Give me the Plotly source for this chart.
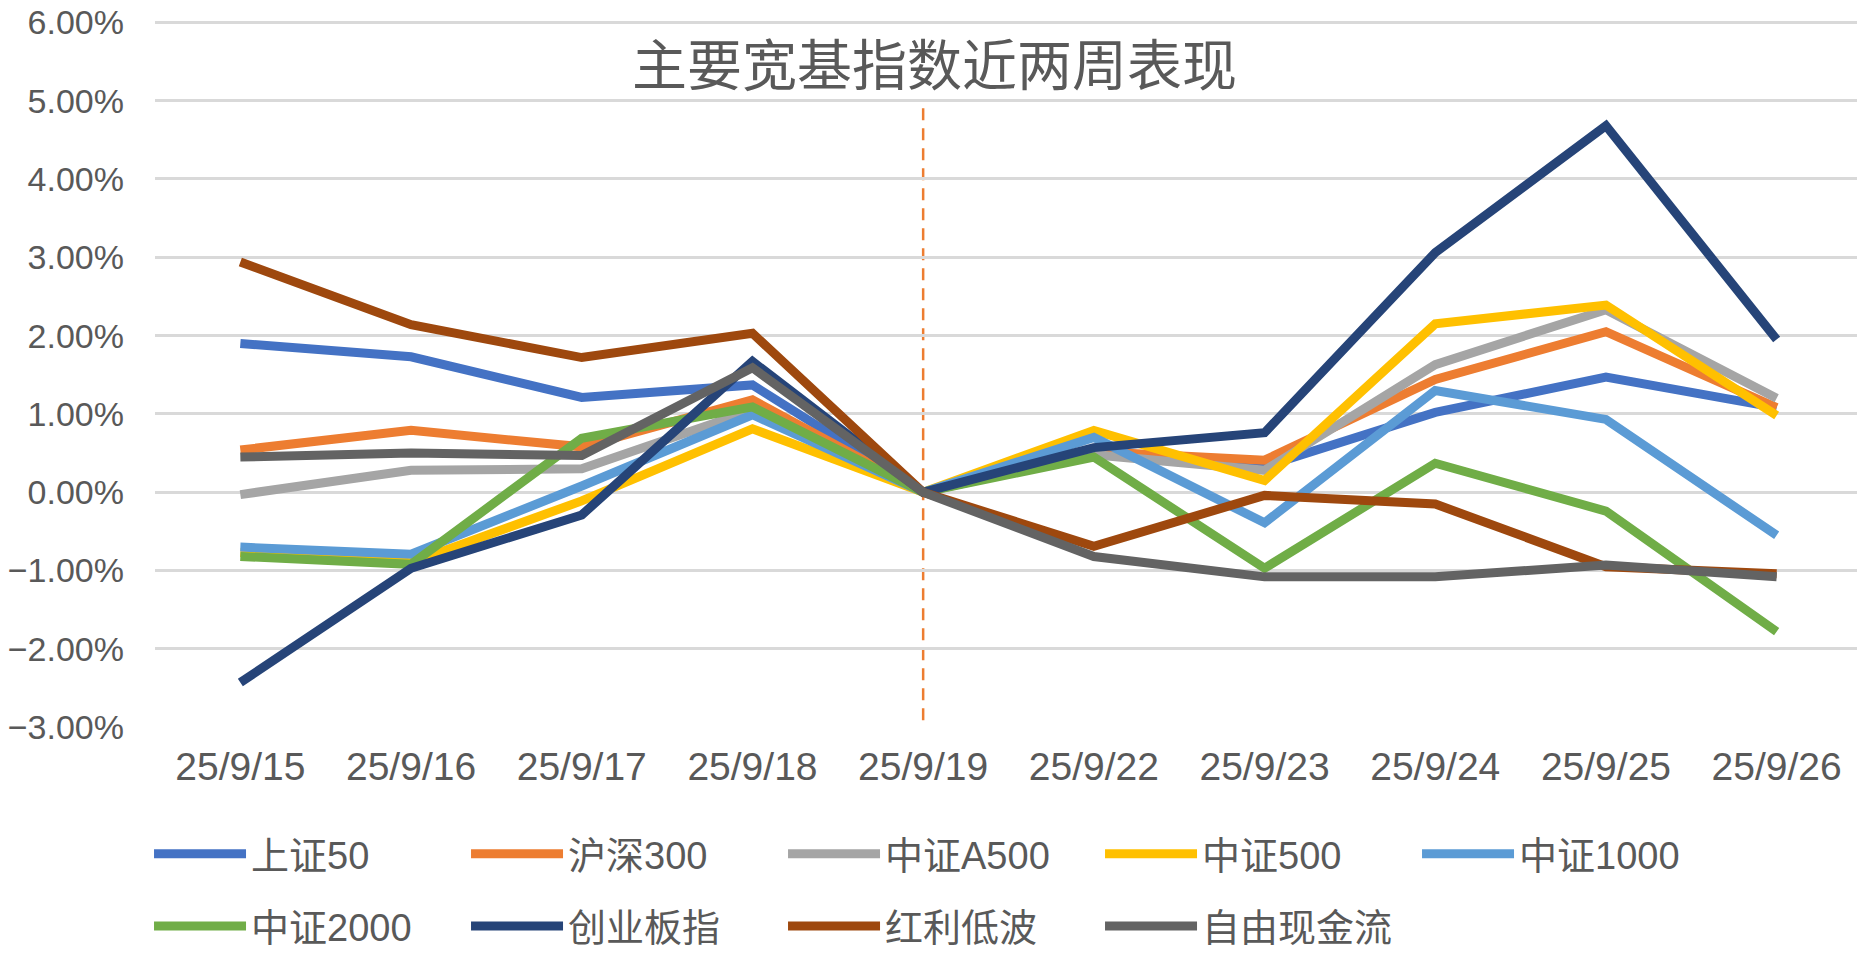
import plotly.graph_objects as go

dates = ["25/9/15", "25/9/16", "25/9/17", "25/9/18", "25/9/19",
         "25/9/22", "25/9/23", "25/9/24", "25/9/25", "25/9/26"]

sz50 = [1.90, 1.73, 1.21, 1.37, 0.00, 0.53, 0.33, 1.02, 1.47, 1.08]
hs300 = [0.54, 0.79, 0.58, 1.18, 0.00, 0.52, 0.41, 1.44, 2.05, 1.08]
zza500 = [-0.03, 0.28, 0.30, 1.05, 0.00, 0.48, 0.28, 1.63, 2.33, 1.20]
zz500 = [-0.77, -0.90, -0.11, 0.81, 0.00, 0.79, 0.15, 2.15, 2.39, 0.98]
zz1000 = [-0.70, -0.79, 0.08, 0.99, 0.00, 0.70, -0.39, 1.30, 0.93, -0.55]
zz2000 = [-0.82, -0.92, 0.69, 1.09, 0.00, 0.45, -0.97, 0.37, -0.24, -1.78]
cybz = [-2.43, -0.97, -0.29, 1.67, 0.00, 0.57, 0.76, 3.06, 4.68, 1.95]
hldb = [2.94, 2.14, 1.72, 2.03, 0.00, -0.69, -0.04, -0.15, -0.95, -1.04]
zyxjl = [0.45, 0.50, 0.47, 1.59, 0.00, -0.82, -1.08, -1.08, -0.93, -1.08]

names = ["上证50", "沪深300", "中证A500", "中证500", "中证1000",
         "中证2000", "创业板指", "红利低波", "自由现金流"]
values = [sz50, hs300, zza500, zz500, zz1000, zz2000, cybz, hldb, zyxjl]
colors = ["#4472C4", "#ED7D31", "#A5A5A5", "#FFC000", "#5B9BD5",
          "#70AD47", "#264478", "#9E480E", "#636363"]

# vertical dashed marker line at 25/9/19 (percent range)
marker_date = "25/9/19"
marker_range = [-2.91, 4.93]

y_ticks = [-0.03, -0.02, -0.01, 0.0, 0.01, 0.02, 0.03, 0.04, 0.05, 0.06]

title_text = "主要宽基指数近两周表现"

FONT = "Liberation Sans, Noto Sans CJK SC, sans-serif"
TXT = "#595959"

fig = go.Figure()
for i, (n, v, c) in enumerate(zip(names, values, colors)):
    fig.add_trace(go.Scatter(
        x=dates, y=[x / 100 for x in v], name=n, mode="lines",
        line=dict(color=c, width=9),
        legend="legend" if i < 5 else "legend2",
    ))

fig.add_shape(type="line", xref="x", yref="y",
              x0=marker_date, x1=marker_date,
              y0=marker_range[0] / 100, y1=marker_range[1] / 100,
              line=dict(color="#ED7D31", width=2.5, dash="12px,8px"),
              layer="below")

fig.add_annotation(text=title_text, xref="paper", yref="paper",
                   x=0.4564, y=0.9416, xanchor="center", yanchor="middle",
                   showarrow=False,
                   font=dict(family="Noto Sans CJK SC", size=55, color=TXT))

legend_common = dict(orientation="h", xanchor="left", yanchor="middle",
                     entrywidth=210, entrywidthmode="pixels",
                     itemwidth=92, bgcolor="rgba(0,0,0,0)",
                     font=dict(family=FONT, size=38, color=TXT))

# page body has an 8px default margin, so the figure is 8px smaller
fig.update_layout(
    width=1857, height=972,
    margin=dict(l=147, r=3, t=12, b=252),
    paper_bgcolor="white", plot_bgcolor="white",
    font=dict(family=FONT, color=TXT),
    showlegend=True,
    legend=dict(x=-0.0035, y=-0.178, **legend_common),
    legend2=dict(x=-0.0035, y=-0.280, **legend_common),
    xaxis=dict(type="category", range=[-0.5, 9.5], showgrid=False,
               showline=False, zeroline=False, ticks="", automargin=False,
               tickfont=dict(family=FONT, size=39, color=TXT),
               ticklabelstandoff=12),
    yaxis=dict(range=[-0.0301, 0.0603], tickmode="array", tickvals=y_ticks,
               tickformat=".2%", ticklabeloverflow="allow",
               showgrid=True, gridcolor="#D9D9D9", gridwidth=2.5,
               zeroline=False, showline=False, ticks="", automargin=False,
               tickfont=dict(family=FONT, size=34, color=TXT),
               ticklabelstandoff=30),
)

fig.write_html("out.html")
